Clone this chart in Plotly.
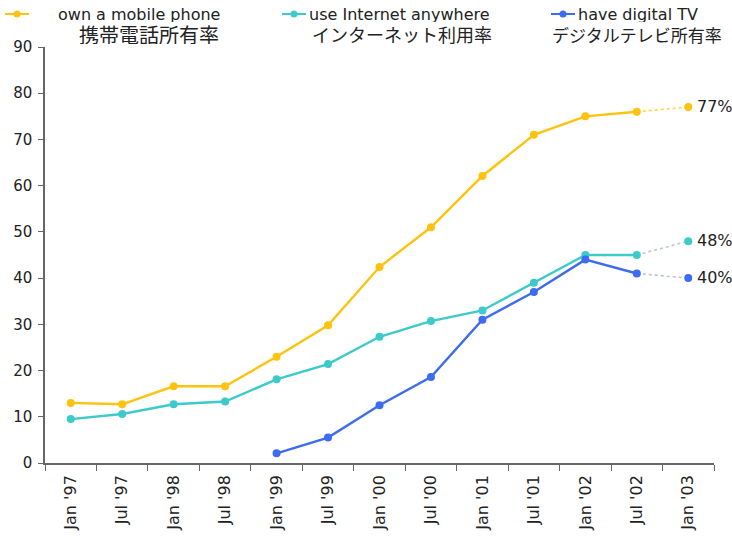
import plotly.graph_objects as go

categories = ["Jan '97", "Jul '97", "Jan '98", "Jul '98", "Jan '99", "Jul '99", "Jan '00",
              "Jul '00", "Jan '01", "Jul '01", "Jan '02", "Jul '02", "Jan '03"]
mobile = [13.0, 12.7, 16.6, 16.6, 23.0, 29.8, 42.4, 51.0, 62.1, 71.0, 75.0, 76.0, 77.0]
internet = [9.5, 10.6, 12.7, 13.3, 18.1, 21.4, 27.3, 30.7, 33.0, 39.0, 45.0, 45.0, 48.0]
digital_tv = [None, None, None, None, 2.1, 5.5, 12.5, 18.6, 31.0, 37.0, 44.0, 41.0, 40.0]
end_labels = ["77%", "48%", "40%"]

legend_en = ["own a mobile phone", "use Internet anywhere", "have digital TV"]
legend_ja = ["携帯電話所有率", "インターネット利用率", "デジタルテレビ所有率"]

colors = ["#FFC20E", "#3CCACA", "#3D6BF2"]
dot_colors = ["#FFD24A", "#B8C8D0", "#B8C4D0"]
series = [mobile, internet, digital_tv]

W, H = 732, 539
L, R, T, B = 45, 18, 47, 76

fig = go.Figure()
for s, c, dc in zip(series, colors, dot_colors):
    fig.add_trace(go.Scatter(x=categories[-2:], y=s[-2:], mode="lines",
                             line=dict(color=dc, width=1.6, dash="dot"),
                             showlegend=False, hoverinfo="skip"))
    fig.add_trace(go.Scatter(x=categories[:-1], y=s[:-1], mode="lines+markers",
                             line=dict(color=c, width=2.4), marker=dict(color=c, size=8),
                             showlegend=False))
    fig.add_trace(go.Scatter(x=categories[-1:], y=s[-1:], mode="markers",
                             marker=dict(color=c, size=8), showlegend=False))

for s, lab in zip(series, end_labels):
    fig.add_annotation(x=categories[-1], y=s[-1], text=lab, showarrow=False,
                       xanchor="left", xshift=7, yshift=1,
                       font=dict(family="DejaVu Sans", size=16, color="#222"))

# custom legend drawn on a full-page overlay axis (pixel coordinates)
leg_sym_x = [5, 282, 551]
leg_en_x = [57, 308, 577]
ja_pos = [(78, "left", 20), (493, "right", 18), (723, "right", 17)]
for i in range(3):
    x0 = leg_sym_x[i]
    fig.add_trace(go.Scatter(x=[x0, x0 + 24], y=[14, 14], mode="lines",
                             line=dict(color=colors[i], width=2),
                             xaxis="x2", yaxis="y2", showlegend=False, hoverinfo="skip"))
    fig.add_trace(go.Scatter(x=[x0 + 12], y=[14], mode="markers",
                             marker=dict(color=colors[i], size=7),
                             xaxis="x2", yaxis="y2", showlegend=False, hoverinfo="skip"))
    fig.add_annotation(xref="x2", yref="y2", x=leg_en_x[i], y=14, text=legend_en[i],
                       showarrow=False, xanchor="left", yanchor="middle", height=16,
                       borderpad=0, font=dict(family="DejaVu Sans", size=16, color="#222"))
    fig.add_annotation(xref="x2", yref="y2", x=ja_pos[i][0], y=34, text=legend_ja[i],
                       showarrow=False, xanchor=ja_pos[i][1], yanchor="middle", height=20,
                       borderpad=0,
                       font=dict(family="Noto Sans CJK JP", size=ja_pos[i][2], color="#222"))

fig.update_layout(
    width=W, height=H, margin=dict(l=0, r=0, t=0, b=0, autoexpand=False),
    plot_bgcolor="rgba(0,0,0,0)", paper_bgcolor="white",
    font=dict(family="DejaVu Sans", color="#333"),
    xaxis=dict(domain=[L / W, (W - R) / W], anchor="y", automargin=False),
    yaxis=dict(domain=[B / H, (H - T) / H], anchor="x", automargin=False),
    xaxis2=dict(domain=[0, 1], range=[0, W], visible=False, anchor="y2", automargin=False),
    yaxis2=dict(domain=[0, 1], range=[H, 0], visible=False, anchor="x2", automargin=False),
)
fig.update_xaxes(selector=dict(anchor="y"), type="category", categoryorder="array",
                 categoryarray=categories, tickson="boundaries", ticks="outside", ticklen=6,
                 tickcolor="#666", showline=True, linecolor="#666", linewidth=1.5,
                 tickangle=-90, showgrid=False, tickfont=dict(size=16, color="#222"),
                 ticklabelstandoff=4, range=[-0.5, 12.5])
fig.update_yaxes(selector=dict(anchor="x"), range=[0, 90], dtick=10, ticks="outside",
                 ticklen=5, tickcolor="#666", showline=True, linecolor="#666", linewidth=1.5,
                 showgrid=False, zeroline=False, tickfont=dict(size=15, color="#222"),
                 ticklabelstandoff=3)

fig.write_html("out.html")
